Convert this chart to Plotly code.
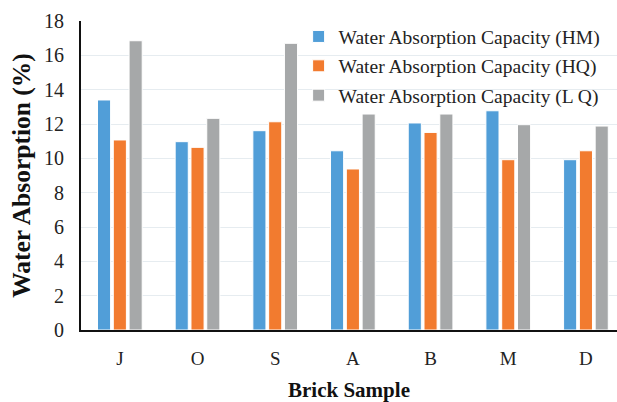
import plotly.graph_objects as go

# Brick samples and water absorption (%) for each test series
samples = ["J", "O", "S", "A", "B", "M", "D"]
hm_values = [13.4, 10.97, 11.61, 10.44, 12.06, 12.77, 9.92]
hq_values = [11.07, 10.64, 12.13, 9.38, 11.51, 9.92, 10.44]
lq_values = [16.85, 12.33, 16.7, 12.58, 12.58, 11.96, 11.88]

series_names = [
    "Water Absorption Capacity (HM)",
    "Water Absorption Capacity (HQ)",
    "Water Absorption Capacity (L Q)",
]
series_values = [hm_values, hq_values, lq_values]
series_colors = ["#519ED8", "#F27B2F", "#A6A8A9"]

y_ticks = [0, 2, 4, 6, 8, 10, 12, 14, 16, 18]

FONT = "'Liberation Serif', 'Times New Roman', serif"

fig = go.Figure()
for i, (name, vals, color) in enumerate(zip(series_names, series_values, series_colors)):
    fig.add_trace(go.Bar(
        x=samples,
        y=vals,
        name=name,
        legendgroup=f"g{i}",
        marker=dict(color=color, line=dict(color="white", width=1)),
    ))

# White panel behind the legend: hides the gridlines there but stays under the bars
fig.add_shape(
    type="rect", xref="paper", yref="paper",
    x0=0.4235, x1=0.974, y0=0.712, y1=0.985,
    fillcolor="white", line=dict(width=0), layer="between",
)

fig.update_layout(
    width=617,
    height=402,
    margin=dict(l=81, r=0, t=21, b=72),
    paper_bgcolor="white",
    plot_bgcolor="white",
    barmode="group",
    bargap=0.39,
    bargroupgap=0.17,
    font=dict(family=FONT, color="#222222"),
    legend=dict(
        x=0.406,
        y=1.012,
        xanchor="left",
        yanchor="top",
        bgcolor="rgba(255,255,255,0)",
        font=dict(family=FONT, size=19.5, color="#222222"),
        tracegroupgap=1,
        itemwidth=30,
    ),
    xaxis=dict(
        range=[-0.5, 6.4],
        showline=True,
        linecolor="#111111",
        linewidth=2,
        showgrid=False,
        ticks="",
        ticklabelstandoff=10,
        tickfont=dict(family=FONT, size=19, color="#222222"),
        title=dict(text="<b>Brick Sample</b>", font=dict(family=FONT, size=21, color="#111111"), standoff=18),
    ),
    yaxis=dict(
        range=[0, 18],
        tickvals=y_ticks,
        showline=True,
        linecolor="#111111",
        linewidth=2,
        showgrid=True,
        gridcolor="#E6ECF0",
        gridwidth=1,
        zeroline=False,
        ticks="",
        ticklabelstandoff=11,
        tickfont=dict(family=FONT, size=20, color="#222222"),
        title=dict(text="<b>Water Absorption (%)</b>", font=dict(family=FONT, size=25.5, color="#111111"), standoff=6),
    ),
)

fig.write_html("out.html")
